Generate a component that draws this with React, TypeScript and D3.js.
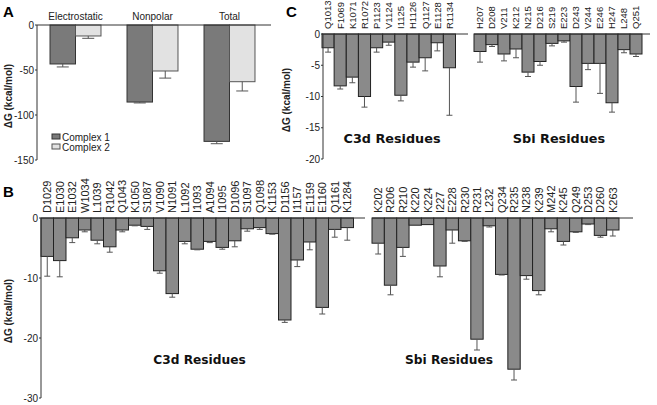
import React from 'react';
import * as d3 from 'd3';

// Panel A
const aCategories = ['Electrostatic', 'Nonpolar', 'Total'];
const aSeries = ['Complex 1', 'Complex 2'];
const aComplex1 = [-43.3, -85.6, -129.3];
const aComplex1Err = [3.3, 1.0, 2.6];
const aComplex2 = [-12.2, -51.1, -63.0];
const aComplex2Err = [2.6, 7.9, 10.3];
const aTicks = [0, -50, -100, -150];

// Panel B
const bC3dLabels = ['D1029','E1030','E1032','W1034','L1039','R1042','Q1043','K1050','S1087','V1090','N1091','L1092','I1093','A1094','I1095','D1096','S1097','Q1098','K1153','D1156','I1157','E1159','E1160','Q1161','K1284'];
const bC3dValues = [-6.4,-7.1,-3.3,-2.0,-3.7,-4.8,-2.0,-1.2,-1.4,-8.8,-12.6,-3.9,-5.2,-3.9,-4.9,-3.8,-1.8,-1.6,-2.6,-17.0,-7.0,-4.0,-14.9,-1.9,-1.6];
const bC3dErr = [3.3,2.7,0.8,0.3,0.6,0.9,0.3,0.1,0.5,0.4,0.6,0.4,0.1,0.2,0.3,1.0,0.4,0.3,0.1,0.4,1.1,1.3,1.1,1.3,2.1];
const bSbiLabels = ['K202','R206','R210','K220','K224','I227','E228','R230','R231','L232','Q234','R235','N238','K239','M242','K245','Q249','D253','D260','K263'];
const bSbiValues = [-4.2,-11.2,-4.9,-1.2,-1.1,-8.0,-2.0,-3.8,-20.2,-1.3,-9.4,-25.2,-9.6,-12.1,-1.8,-3.9,-2.3,-1.0,-2.9,-2.0];
const bSbiErr = [1.8,1.6,1.5,0,0,1.8,2.2,0.1,1.8,0.2,0.1,1.8,0.6,0.7,0.5,0.6,0.1,0.1,0.3,1.0];
const bTicks = [0, -10, -20, -30];

// Panel C
const cC3dLabels = ['Q1013','F1069','K1071','R1072','P1123','V1124','I1125','H1126','Q1127','E1128','R1134'];
const cC3dValues = [-2.2,-8.3,-6.9,-10.0,-2.2,-1.3,-9.8,-4.5,-3.8,-1.4,-5.4];
const cC3dErr = [0.7,0.5,0.9,1.7,0.7,0.5,0.9,0.8,2.1,1.3,7.6];
const cSbiLabels = ['H207','D208','V211','K212','N215','D216','S219','E223','D243','V244','E246','H247','L248','Q251'];
const cSbiValues = [-2.8,-1.7,-3.2,-2.4,-6.1,-4.4,-1.5,-1.1,-8.4,-4.7,-4.7,-11.0,-2.5,-3.2];
const cSbiErr = [1.7,0.3,1.1,1.4,0.7,0.6,0.4,0.2,2.5,1.0,4.8,1.5,0.5,0.4];
const cTicks = [0, -5, -10, -15, -20];

const SANS = 'Arial, "Liberation Sans", Helvetica, sans-serif';
const BOLD = '"DejaVu Sans", Verdana, sans-serif';
const BAR = '#8a8a8a';
const ERR = '#555';

type ResProps = {
  labels: string[]; values: number[]; errs: number[];
  x0: number; x1: number; y: d3.ScaleLinear<number, number>;
  lineEnd: number; labelY: number; fontSize: number; capW: number;
};

function ResidueGroup({ labels, values, errs, x0, x1, y, lineEnd, labelY, fontSize, capW }: ResProps) {
  const x = d3.scaleBand<string>().domain(labels).range([x0, x1]).padding(0);
  const bw = x.bandwidth();
  const y0 = y(0);
  return (
    <g>
      {labels.map((l, i) => {
        const bx = x(l)!;
        const cx = bx + bw / 2;
        const v = values[i];
        const e = errs[i];
        return (
          <g key={l}>
            <rect x={bx} y={y0} width={bw} height={y(v) - y0} fill={BAR} stroke="#222" strokeWidth={1} />
            {e > 0 && (
              <g stroke={ERR} strokeWidth={1}>
                <line x1={cx} x2={cx} y1={y(v)} y2={y(v - e)} />
                <line x1={cx - capW / 2} x2={cx + capW / 2} y1={y(v - e)} y2={y(v - e)} />
              </g>
            )}
            <text transform={`translate(${cx + fontSize * 0.36},${labelY}) rotate(-90)`} fontSize={fontSize} fontFamily={SANS} fill="#222">{l}</text>
          </g>
        );
      })}
      <line x1={x0} x2={lineEnd} y1={y0} y2={y0} stroke="#333" strokeWidth={1} />
    </g>
  );
}

function YAxis({ y, ticks, x, fontSize }: { y: d3.ScaleLinear<number, number>; ticks: number[]; x: number; fontSize: number }) {
  const [r0, r1] = y.range();
  return (
    <g>
      <line x1={x} x2={x} y1={r0} y2={r1} stroke="#333" strokeWidth={1} />
      {ticks.map(t => (
        <g key={t}>
          <line x1={x - 2} x2={x} y1={y(t)} y2={y(t)} stroke="#333" />
          <text x={x - 3} y={y(t)} dy="0.35em" textAnchor="end" fontSize={fontSize} fontFamily={SANS} fill="#222">{t}</text>
        </g>
      ))}
    </g>
  );
}

export default function App() {
  const yA = d3.scaleLinear().domain([0, -150]).range([25, 160]);
  const xA = d3.scaleBand<string>().domain(aCategories).range([37, 268]).paddingInner(0.338).paddingOuter(0.169);
  const xAs = d3.scaleBand<string>().domain(aSeries).range([0, xA.bandwidth()]);
  const aData = [
    { vals: aComplex1, errs: aComplex1Err, fill: '#7a7a7a', stroke: '#333' },
    { vals: aComplex2, errs: aComplex2Err, fill: '#e2e2e2', stroke: '#555' },
  ];

  const yB = d3.scaleLinear().domain([0, -30]).range([218, 398]);
  const yC = d3.scaleLinear().domain([0, -20]).range([34, 159]);

  return (
    <svg width={657} height={405} style={{ position: 'absolute', left: 0, top: 0, background: '#fff' }}>
      <rect width={657} height={405} fill="#fff" />
      {/* Panel A */}
      <text x={3} y={17} fontSize={15} fontWeight="bold" fontFamily={SANS}>A</text>
      {aCategories.map((c, ci) => (
        <g key={c}>
          {aData.map((s, si) => {
            const bx = xA(c)! + xAs(aSeries[si])!;
            const bw = xAs.bandwidth();
            const cx = bx + bw / 2;
            const v = s.vals[ci], e = s.errs[ci];
            return (
              <g key={si}>
                <rect x={bx} y={yA(0)} width={bw} height={yA(v) - yA(0)} fill={s.fill} stroke={s.stroke} />
                <line x1={cx} x2={cx} y1={yA(v)} y2={yA(v - e)} stroke={ERR} />
                <line x1={cx - 6} x2={cx + 6} y1={yA(v - e)} y2={yA(v - e)} stroke={ERR} />
              </g>
            );
          })}
          <text x={xA(c)! + xA.bandwidth() / 2} y={20} textAnchor="middle" fontSize={10} fontFamily={SANS} fill="#222">{c}</text>
        </g>
      ))}
      <line x1={37} x2={271} y1={yA(0)} y2={yA(0)} stroke="#333" />
      <YAxis y={yA} ticks={aTicks} x={37} fontSize={10} />
      <text transform={`translate(12,96) rotate(-90)`} textAnchor="middle" fontSize={10} fontWeight="bold" fontFamily={SANS} fill="#222">ΔG (kcal/mol)</text>
      {aSeries.map((s, i) => (
        <g key={s}>
          <rect x={52} y={134 + i * 10} width={8} height={5} fill={aData[i].fill} stroke={aData[i].stroke} />
          <text x={62} y={140.5 + i * 10} fontSize={10} fontFamily={SANS} fill="#222">{s}</text>
        </g>
      ))}

      {/* Panel B */}
      <text x={3} y={197} fontSize={15} fontWeight="bold" fontFamily={SANS}>B</text>
      <ResidueGroup labels={bC3dLabels} values={bC3dValues} errs={bC3dErr} x0={41} x1={353.5} y={yB} lineEnd={365} labelY={213} fontSize={11} capW={6} />
      <ResidueGroup labels={bSbiLabels} values={bSbiValues} errs={bSbiErr} x0={372} x1={619} y={yB} lineEnd={633} labelY={213} fontSize={11} capW={6} />
      <YAxis y={yB} ticks={bTicks} x={41} fontSize={10} />
      <text transform={`translate(12,311) rotate(-90)`} textAnchor="middle" fontSize={10} fontWeight="bold" fontFamily={SANS} fill="#222">ΔG (kcal/mol)</text>
      <text x={199.5} y={364} textAnchor="middle" fontSize={12.2} fontWeight="bold" fontFamily={BOLD} fill="#111">C3d Residues</text>
      <text x={449} y={364} textAnchor="middle" fontSize={12.2} fontWeight="bold" fontFamily={BOLD} fill="#111">Sbi Residues</text>

      {/* Panel C */}
      <text x={286} y={17} fontSize={15} fontWeight="bold" fontFamily={SANS}>C</text>
      <ResidueGroup labels={cC3dLabels} values={cC3dValues} errs={cC3dErr} x0={322} x1={455.5} y={yC} lineEnd={468} labelY={29} fontSize={9.5} capW={6} />
      <ResidueGroup labels={cSbiLabels} values={cSbiValues} errs={cSbiErr} x0={474} x1={642} y={yC} lineEnd={650} labelY={29} fontSize={9.5} capW={6} />
      <YAxis y={yC} ticks={cTicks} x={323} fontSize={10} />
      <text transform={`translate(290,100) rotate(-90)`} textAnchor="middle" fontSize={10} fontWeight="bold" fontFamily={SANS} fill="#222">ΔG (kcal/mol)</text>
      <text x={392} y={143} textAnchor="middle" fontSize={12.8} fontWeight="bold" fontFamily={BOLD} fill="#111">C3d Residues</text>
      <text x={559} y={143} textAnchor="middle" fontSize={12.8} fontWeight="bold" fontFamily={BOLD} fill="#111">Sbi Residues</text>
    </svg>
  );
}
